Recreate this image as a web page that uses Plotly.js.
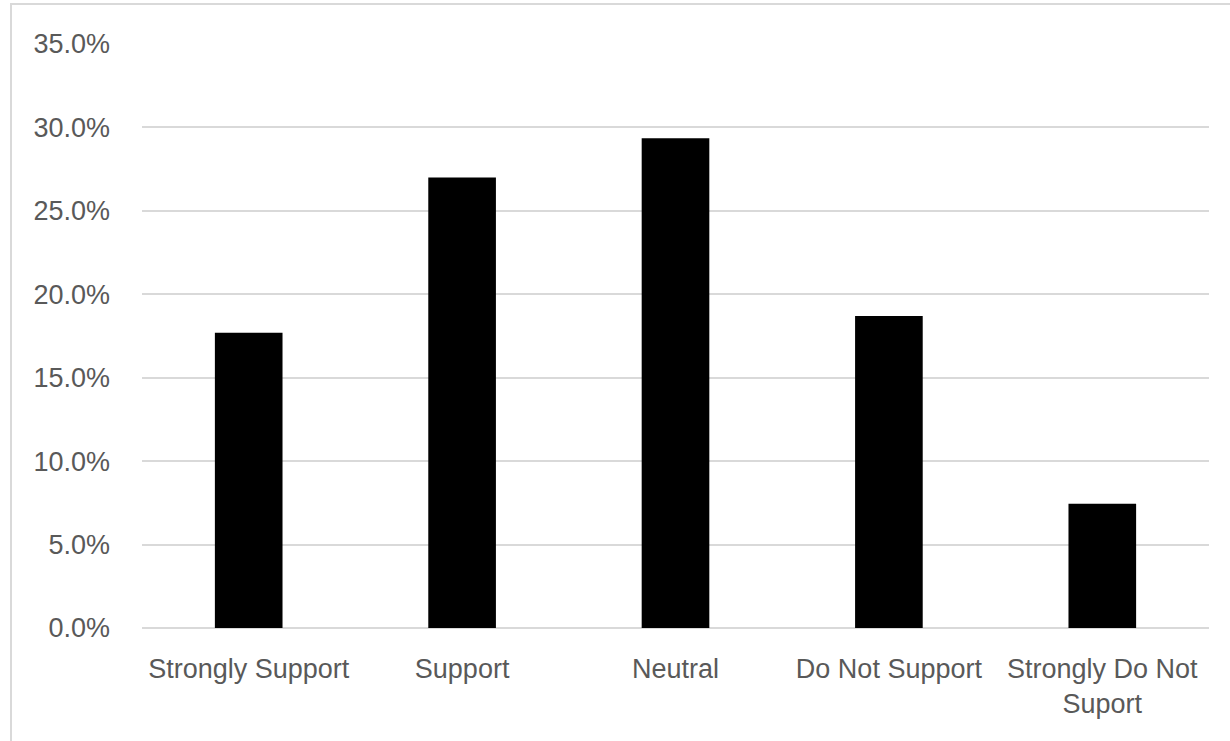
<!DOCTYPE html>
<html>
<head>
<meta charset="utf-8">
<script src="https://cdn.plot.ly/plotly-3.0.1.min.js"></script>
<style>
html,body{margin:0;padding:0;background:#fff;}
#wrap{position:relative;width:1230px;height:741px;overflow:hidden;}
#chart{position:absolute;left:0;top:0;width:1230px;height:741px;}
#frame{position:absolute;left:10px;top:3px;width:1240px;height:760px;border:2px solid #d9d9d9;box-sizing:border-box;pointer-events:none;}
</style>
</head>
<body>
<div id="wrap">
<div id="chart"></div>
<div id="frame"></div>
</div>
<script>
const categories = ["Strongly Support", "Support", "Neutral", "Do Not Support", "Strongly Do Not<br>Suport"];
const values = [0.177, 0.270, 0.2935, 0.187, 0.0745];
const yTicks = [0, 0.05, 0.10, 0.15, 0.20, 0.25, 0.30, 0.35];

const trace = {
  type: 'bar',
  x: categories,
  y: values,
  marker: {color: '#000000'},
  width: 0.317,
  hoverinfo: 'x+y'
};

const layout = {
  width: 1230,
  height: 741,
  margin: {l: 142, r: 21, t: 44, b: 113, pad: 0},
  paper_bgcolor: '#ffffff',
  plot_bgcolor: '#ffffff',
  showlegend: false,
  font: {family: 'Liberation Sans, Arial, sans-serif', color: '#595959'},
  xaxis: {
    type: 'category',
    showgrid: false,
    showline: false,
    zeroline: false,
    ticks: '',
    tickfont: {size: 27, color: '#595959', family: 'Liberation Sans, Arial, sans-serif'},
    ticklabelstandoff: 22
  },
  yaxis: {
    range: [0, 0.35],
    tickvals: yTicks,
    tickformat: '.1%',
    showgrid: true,
    gridcolor: '#d9d9d9',
    gridwidth: 2,
    zeroline: true,
    zerolinecolor: '#d9d9d9',
    zerolinewidth: 2,
    showline: false,
    ticks: '',
    tickfont: {size: 27, color: '#595959', family: 'Liberation Sans, Arial, sans-serif'},
    ticklabelstandoff: 31
  }
};

Plotly.newPlot('chart', [trace], layout, {displayModeBar: false, staticPlot: true});
</script>
</body>
</html>
